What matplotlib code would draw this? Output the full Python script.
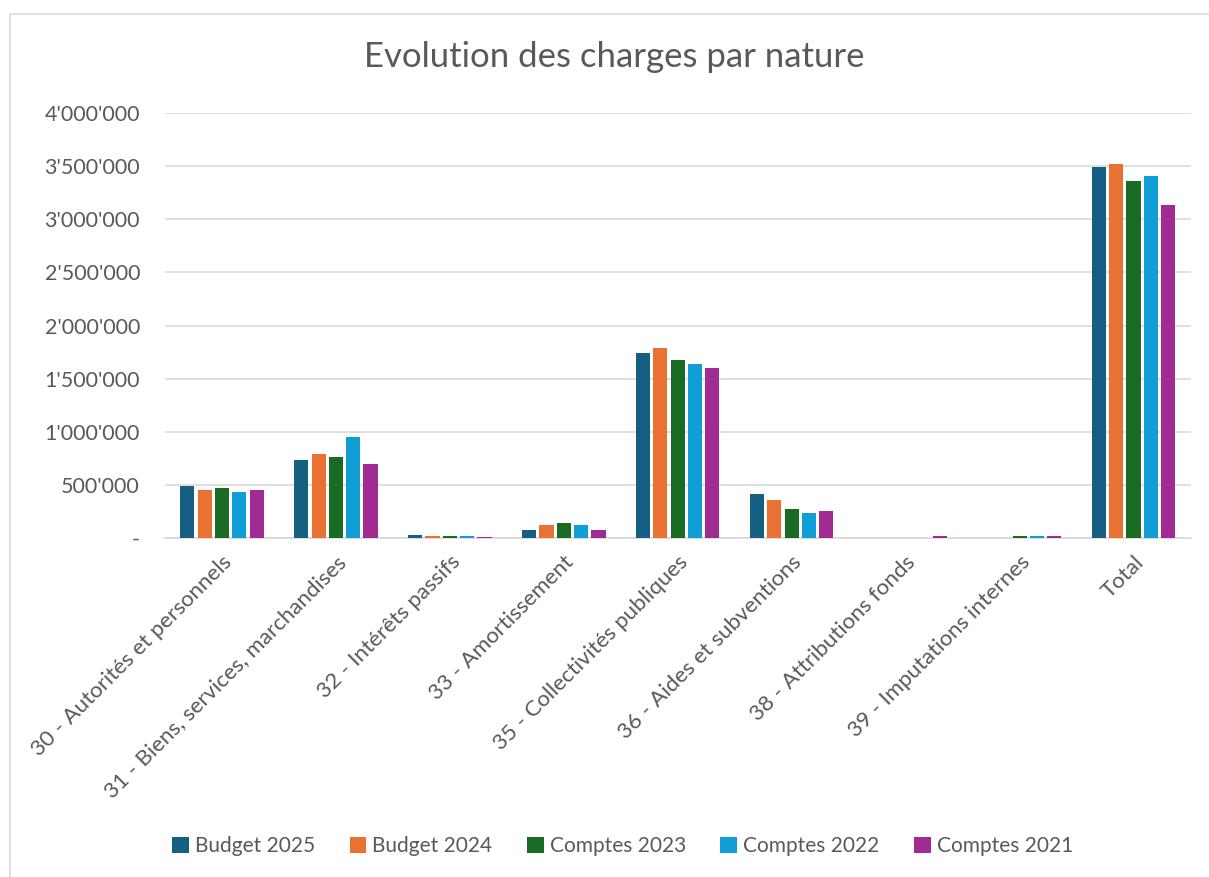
import numpy as np
import matplotlib.pyplot as plt
from matplotlib.patches import Rectangle
from matplotlib.ticker import FuncFormatter

plt.rcParams['font.family'] = ['Lato', 'DejaVu Sans']

categories = ["30 - Autorités et personnels", "31 - Biens, services, marchandises",
              "32 - Intérêts passifs", "33 - Amortissement", "35 - Collectivités publiques",
              "36 - Aides et subventions", "38 - Attributions fonds",
              "39 - Imputations internes", "Total"]
series = ["Budget 2025", "Budget 2024", "Comptes 2023", "Comptes 2022", "Comptes 2021"]
budget_2025 = [490000, 732000, 32000, 80000, 1740000, 416000, 0, 0, 3491000]
budget_2024 = [452000, 787000, 19000, 121000, 1790000, 356000, 0, 0, 3522000]
comptes_2023 = [471000, 758000, 19000, 143000, 1678000, 272000, 0, 15000, 3357000]
comptes_2022 = [430000, 955000, 16000, 121000, 1637000, 237000, 0, 15000, 3410000]
comptes_2021 = [455000, 701000, 13000, 73000, 1600000, 250000, 17000, 15000, 3130000]
values = [budget_2025, budget_2024, comptes_2023, comptes_2022, comptes_2021]
colors = ["#156082", "#e97132", "#196b24", "#0f9ed5", "#a02b93"]

fig = plt.figure(figsize=(12.09, 8.77), dpi=100)
ax = fig.add_axes([165/1209, 1 - 538/877, (1190.5 - 165)/1209, (538 - 113)/877])

x = np.arange(len(categories))
slot = 0.152
for i, (name, vals, c) in enumerate(zip(series, values, colors)):
    ax.bar(x + (i - 2) * slot, vals, width=0.124, color=c, label=name, zorder=3)

ax.set_xlim(-0.5, len(categories) - 0.5)
ax.set_ylim(0, 4000000)
ax.set_yticks(np.arange(0, 4000001, 500000))
ax.yaxis.set_major_formatter(FuncFormatter(
    lambda v, p: "-" if v == 0 else f"{int(v):,}".replace(",", "'")))
ax.grid(axis='y', color='#d9d9d9', linewidth=1.2, zorder=0)
for s in ['top', 'right', 'left']:
    ax.spines[s].set_visible(False)
ax.spines['bottom'].set_color('#d9d9d9')
ax.spines['bottom'].set_linewidth(1.2)
ax.tick_params(axis='both', length=0, colors='#595959')
ax.tick_params(axis='y', pad=18, labelsize=15.5)
ax.set_xticks(x)
ax.set_xticklabels(categories, rotation=45, ha='right', rotation_mode='anchor')
ax.tick_params(axis='x', pad=10, labelsize=16)

fig.text(0.508, 1 - 57/877, "Evolution des charges par nature", ha='center', va='center',
         fontsize=25, color='#595959')

fig.legend(loc='center', bbox_to_anchor=(0.515, 1 - 846/877), ncol=5, frameon=False,
           fontsize=15, handlelength=0.8, handleheight=0.8, handletextpad=0.3,
           columnspacing=1.65, labelcolor='#595959')

fig.patches.append(Rectangle((10/1209, -0.01), 1.02, 1 - 14/877 + 0.01,
                             transform=fig.transFigure, fill=False,
                             edgecolor='#d9d9d9', linewidth=1.2))

fig.savefig("out.png", dpi=100)
